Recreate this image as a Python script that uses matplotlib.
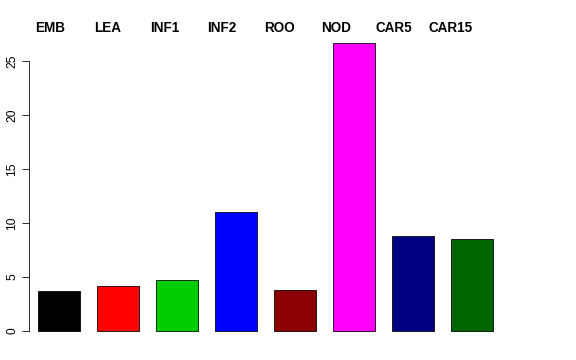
import numpy as np
import matplotlib.pyplot as plt

plt.rcParams['font.family'] = ['Liberation Sans', 'DejaVu Sans']

etiquetas = ["EMB", "LEA", "INF1", "INF2", "ROO", "NOD", "CAR5", "CAR15"]
valores = [3.7, 4.15, 4.7, 11.0, 3.8, 26.7, 8.8, 8.55]
colores = ["black", "red", "#00CD00", "blue", "#8B0000", "magenta", "#000080", "#006400"]

fig = plt.figure(figsize=(8, 5), dpi=72)
ax = fig.add_axes([29 / 576, 17.5 / 360, 473 / 576, 311.5 / 360])

x = np.arange(len(valores))
ax.bar(x, valores, width=0.71, color=colores, edgecolor="black", linewidth=0.8)

ax.set_xlim(-0.508, 7.508)
ax.set_ylim(-1.07, 27.77)

for s in ["top", "right", "bottom"]:
    ax.spines[s].set_visible(False)
ax.spines["left"].set_bounds(0, 25)
ax.set_xticks([])
ax.set_yticks([0, 5, 10, 15, 20, 25])
ax.tick_params(axis="y", length=7, labelsize=12, pad=4)
for t in ax.get_yticklabels():
    t.set_rotation(90)
    t.set_va("center")

# etiquetas arriba, como mtext
pos_etiquetas = x * 0.97 - 0.15
for xi, nombre in zip(pos_etiquetas, etiquetas):
    ax.text(xi, 28.05, nombre, ha="center", va="center", fontsize=13.5,
            fontweight="bold", clip_on=False)

plt.savefig("out.png", dpi=72)
